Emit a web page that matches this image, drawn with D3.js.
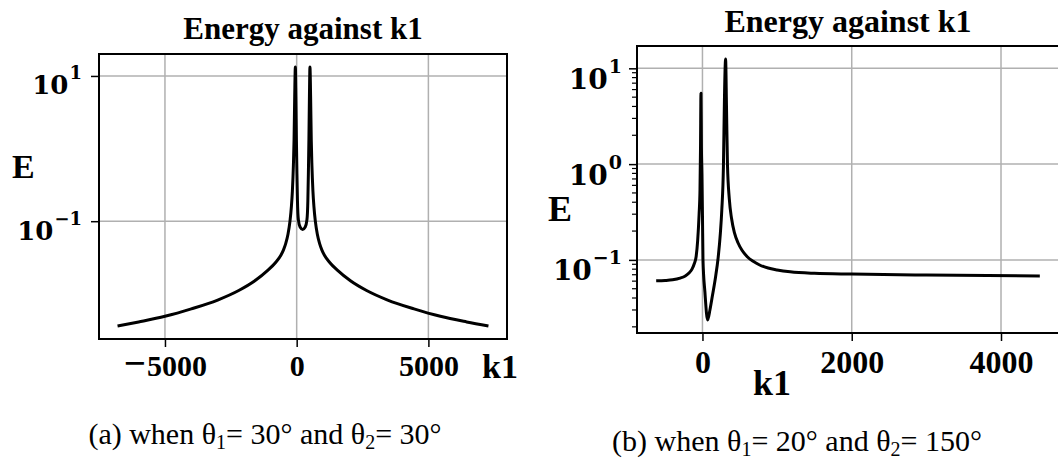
<!DOCTYPE html>
<html>
<head>
<meta charset="utf-8">
<script src="https://cdn.jsdelivr.net/npm/d3@7/dist/d3.min.js"></script>
<style>
body { margin: 0; background: #fff; }
</style>
</head>
<body>
<div id="chart"></div>
<script>
// panel (a): theta1 = 30, theta2 = 30
var k1A = [-6800, -6000, -5000, -4000, -3000, -2200, -1600, -1100, -800, -600, -504, -417, -330, -254, -200, -163, -125, -100, -75, -50,
    -30, -10, 10, 30, 64, 130, 227, 324, 390, 424, 444, 464, 484, 504, 529, 554, 579, 617, 654, 708,
    784, 871, 958, 1054, 1254, 1554, 2054, 2654, 3454, 4454, 5454, 6454, 7280];
var energyA = [0.0036, 0.0041, 0.0049, 0.0062, 0.0082, 0.0111, 0.015, 0.021, 0.027, 0.034, 0.040, 0.049, 0.066, 0.1, 0.16, 0.26, 0.58, 1.3, 5.2, 13.3,
    5.2, 1.3, 0.45, 0.19, 0.105, 0.083, 0.077, 0.083, 0.105, 0.19, 0.45, 1.3, 5.2, 13.3, 5.2, 1.3, 0.58, 0.26, 0.16, 0.1,
    0.066, 0.049, 0.040, 0.034, 0.027, 0.021, 0.015, 0.0111, 0.0082, 0.0062, 0.0049, 0.0041, 0.0036];
var xTicksA = [-5000, 0, 5000];
var yTicksA = [10, 0.1];

// panel (b): theta1 = 20, theta2 = 150
var k1B = [-620, -500, -400, -300, -230, -180, -140, -110, -85, -64, -45, -33, -26, -20, -14, -7, 0, 7, 33, 69,
    100, 135, 175, 210, 240, 259, 281, 295, 310, 322, 335, 360, 390, 430, 476, 530, 600, 680, 760, 880,
    1000, 1175, 1500, 2000, 3000, 4520];
var energyB = [0.0605, 0.061, 0.062, 0.0645, 0.068, 0.073, 0.08, 0.091, 0.108, 0.16, 0.3, 0.54, 1.5, 5.5, 1.5, 0.8, 0.3, 0.1, 0.046, 0.0236,
    0.03, 0.043, 0.066, 0.105, 0.19, 0.33, 0.95, 5.0, 12.5, 4, 1.0, 0.43, 0.27, 0.19, 0.151, 0.126, 0.108, 0.0966, 0.089, 0.0822,
    0.0785, 0.075, 0.0724, 0.0711, 0.0695, 0.068];
var xTicksB = [0, 2000, 4000];
var yTicksB = [10, 1, 0.1];

var titleText = "Energy against k1";
var serif = "'Liberation Serif', 'Times New Roman', serif";
var mathSerif = "'DejaVu Serif', serif";

var w = 1058;
var h = 463;

var svg = d3.select("#chart")
    .append("svg")
    .attr("width", w)
    .attr("height", h)
    .style("font-family", serif);

svg.append("rect").attr("width", w).attr("height", h).attr("fill", "#fff");

// matplotlib style 5% margins
function padExtent(ext) {
    var m = (ext[1] - ext[0]) * 0.05;
    return [ext[0] - m, ext[1] + m];
}

function drawPanel(o) {
    var g = svg.append("g");
    var pts = o.k.map(function(d, i) { return [d, o.e[i]]; });

    var x = d3.scaleLinear()
        .domain(padExtent(d3.extent(o.k)))
        .range([o.left, o.right]);

    var logExt = padExtent(d3.extent(o.e).map(Math.log10));
    var y = d3.scaleLog()
        .domain([Math.pow(10, logExt[0]), Math.pow(10, logExt[1])])
        .range([o.bottom, o.top]);

    // grid
    g.selectAll(".gx")
        .data(o.xTicks)
        .enter()
        .append("line")
        .attr("x1", function(d) { return x(d); })
        .attr("x2", function(d) { return x(d); })
        .attr("y1", o.top)
        .attr("y2", o.bottom)
        .attr("stroke", "#b0b0b0")
        .attr("stroke-width", 1.5);

    g.selectAll(".gy")
        .data(o.yTicks)
        .enter()
        .append("line")
        .attr("x1", o.left)
        .attr("x2", o.right)
        .attr("y1", function(d) { return y(d); })
        .attr("y2", function(d) { return y(d); })
        .attr("stroke", "#b0b0b0")
        .attr("stroke-width", 1.5);

    // curve
    var clipId = "clip" + o.id;
    svg.append("clipPath").attr("id", clipId)
        .append("rect")
        .attr("x", o.left).attr("y", o.top)
        .attr("width", o.right - o.left).attr("height", o.bottom - o.top);

    var line = d3.line()
        .x(function(d) { return x(d[0]); })
        .y(function(d) { return y(d[1]); })
        .curve(d3.curveMonotoneX);

    g.append("path")
        .datum(pts)
        .attr("clip-path", "url(#" + clipId + ")")
        .attr("d", line)
        .attr("fill", "none")
        .attr("stroke", "#000")
        .attr("stroke-width", 3)
        .attr("stroke-linejoin", "round");

    // x axis
    var xAxis = d3.axisBottom(x)
        .tickValues(o.xTicks)
        .tickSize(8)
        .tickPadding(o.xPad)
        .tickFormat(function() { return ""; });

    var ax = g.append("g")
        .attr("transform", "translate(0," + o.bottom + ")")
        .call(xAxis);
    ax.select(".domain").remove();
    ax.selectAll("line").attr("stroke-width", 1.5);
    ax.selectAll("text").each(function(d) {
        var t = d3.select(this)
            .style("font-family", serif)
            .style("font-size", o.tickFont + "px")
            .style("font-weight", "bold")
            .attr("fill", "#000");
        if (d < 0) {
            // long math minus
            t.append("tspan").style("font-size", (o.tickFont * 1.3) + "px").text("\u2212");
            t.append("tspan").attr("dx", 1).text(Math.abs(d));
        } else {
            t.text(d);
        }
    });

    // y axis, labels as 10^n
    var yAxis = d3.axisLeft(y)
        .tickValues(o.yTicks)
        .tickSize(8)
        .tickPadding(o.yPad)
        .tickFormat(function() { return ""; });

    var ay = g.append("g")
        .attr("transform", "translate(" + o.left + ",0)")
        .call(yAxis);
    ay.select(".domain").remove();
    ay.selectAll("line").attr("stroke-width", 1.5);
    ay.selectAll("text").each(function(d) {
        var t = d3.select(this)
            .style("font-family", mathSerif)
            .style("font-size", o.yFont + "px")
            .style("font-weight", "bold")
            .attr("fill", "#000")
            .attr("dy", o.yBase);
        var n = Math.round(Math.log10(d));
        t.append("tspan").text("10");
        t.append("tspan")
            .style("font-size", o.expFont + "px")
            .attr("dx", 1)
            .attr("dy", -o.expRaise)
            .text(n < 0 ? "\u2212" + Math.abs(n) : String(n));
    });

    // minor ticks
    if (o.minor) {
        var minors = y.ticks().filter(function(d) {
            var l = Math.log10(d);
            return Math.abs(l - Math.round(l)) > 1e-6;
        });
        g.selectAll(".minor")
            .data(minors)
            .enter()
            .append("line")
            .attr("x1", o.left - 5)
            .attr("x2", o.left)
            .attr("y1", function(d) { return y(d); })
            .attr("y2", function(d) { return y(d); })
            .attr("stroke", "#000")
            .attr("stroke-width", 1.2);
    }

    // frame
    g.append("rect")
        .attr("x", o.left)
        .attr("y", o.top)
        .attr("width", o.right - o.left)
        .attr("height", o.bottom - o.top)
        .attr("fill", "none")
        .attr("stroke", "#000")
        .attr("stroke-width", 2);

    // title
    g.append("text")
        .attr("x", (o.left + o.right) / 2)
        .attr("y", o.titleY)
        .attr("text-anchor", "middle")
        .style("font-size", o.titleFont + "px")
        .style("font-weight", "bold")
        .text(titleText);

    // axis labels
    g.append("text")
        .attr("x", o.eX)
        .attr("y", o.eY)
        .style("font-size", o.labelFont + "px")
        .style("font-weight", "bold")
        .text("E");

    g.append("text")
        .attr("x", o.kX)
        .attr("y", o.kY)
        .style("font-size", o.labelFont + "px")
        .style("font-weight", "bold")
        .text("k1");

    // caption
    var cap = g.append("text")
        .attr("x", o.capX)
        .attr("y", o.capY)
        .attr("text-anchor", "middle")
        .style("font-size", "30px");
    cap.append("tspan").text(o.cap[0] + " when \u03b8");
    cap.append("tspan").style("font-size", "20px").attr("dy", 5).text("1");
    cap.append("tspan").attr("dy", -5).text("= " + o.cap[1] + "\u00b0 and \u03b8");
    cap.append("tspan").style("font-size", "20px").attr("dy", 5).text("2");
    cap.append("tspan").attr("dy", -5).text("= " + o.cap[2] + "\u00b0");
}

drawPanel({
    id: "a", k: k1A, e: energyA, xTicks: xTicksA, yTicks: yTicksA,
    left: 99, right: 507, top: 54, bottom: 339,
    tickFont: 30, yFont: 26, expFont: 18, expRaise: 15, yBase: 18, xPad: 8, yPad: 9,
    titleFont: 31, titleY: 39, labelFont: 34,
    eX: 12, eY: 178, kX: 482, kY: 378,
    minor: false,
    cap: ["(a)", 30, 30], capX: 265, capY: 444
});

drawPanel({
    id: "b", k: k1B, e: energyB, xTicks: xTicksB, yTicks: yTicksB,
    left: 637, right: 1059, top: 46, bottom: 333,
    tickFont: 32, yFont: 28, expFont: 19, expRaise: 16, yBase: 20, xPad: 9, yPad: 7,
    titleFont: 32, titleY: 32, labelFont: 36,
    eX: 548, eY: 221, kX: 753, kY: 395,
    minor: true,
    cap: ["(b)", 20, 150], capX: 797, capY: 451
});
</script>
</body>
</html>
